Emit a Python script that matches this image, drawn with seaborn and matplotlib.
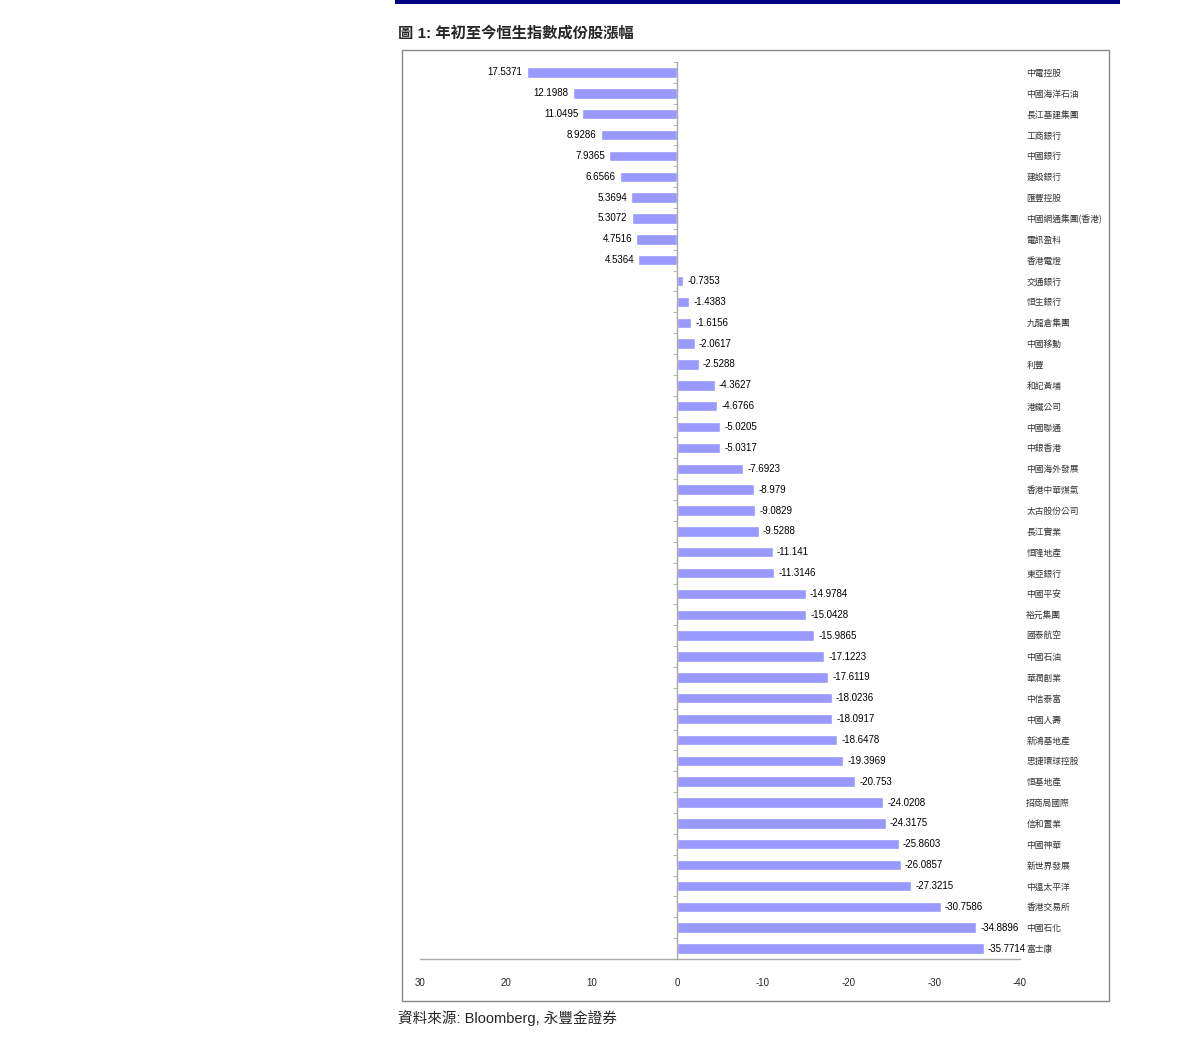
import numpy as np
import pandas as pd
import matplotlib
matplotlib.use("Agg")
import matplotlib.pyplot as plt
import seaborn as sns
from matplotlib.patches import Rectangle

# 恒指成份股年初至今漲幅
stocks = ['中電控股', '中國海洋石油', '長江基建集團', '工商銀行', '中國銀行', '建設銀行',
          '匯豐控股', '中國網通集團(香港)', '電訊盈科', '香港電燈', '交通銀行', '恒生銀行',
          '九龍倉集團', '中國移動', '利豐', '和記黃埔', '港鐵公司', '中國聯通', '中銀香港',
          '中國海外發展', '香港中華煤氣', '太古股份公司', '長江實業', '恒隆地產', '東亞銀行',
          '中國平安', '裕元集團', '國泰航空', '中國石油', '華潤創業', '中信泰富', '中國人壽',
          '新鴻基地產', '思捷環球控股', '恒基地產', '招商局國際', '信和置業', '中國神華',
          '新世界發展', '中遠太平洋', '香港交易所', '中國石化', '富士康']
change = [17.5371, 12.1988, 11.0495, 8.9286, 7.9365, 6.6566, 5.3694, 5.3072, 4.7516,
          4.5364, -0.7353, -1.4383, -1.6156, -2.0617, -2.5288, -4.3627, -4.6766, -5.0205,
          -5.0317, -7.6923, -8.979, -9.0829, -9.5288, -11.141, -11.3146, -14.9784,
          -15.0428, -15.9865, -17.1223, -17.6119, -18.0236, -18.0917, -18.6478, -19.3969,
          -20.753, -24.0208, -24.3175, -25.8603, -26.0857, -27.3215, -30.7586, -34.8896,
          -35.7714]
xticks = [30, 20, 10, 0, -10, -20, -30, -40]

df = pd.DataFrame({'stock': stocks, 'change': change})

sns.set_style('white')
plt.rcParams['font.family'] = ['Liberation Sans', 'Noto Sans CJK TC']
plt.rcParams['axes.unicode_minus'] = False

fig = plt.figure(figsize=(11.91, 10.46), dpi=100)
W, H = 1191, 1046
ax = fig.add_axes([420 / W, 1 - 959 / H, 600 / W, 897 / H])

sns.barplot(data=df, x='change', y='stock', orient='h', color='#9999FF',
            saturation=1, width=0.5, ax=ax, order=stocks)

ax.set_xlim(30, -40)
ax.set_ylim(len(stocks) - 0.5, -0.5)
ax.set_xticks(xticks)
ax.set_xticklabels([str(t) for t in xticks], fontsize=7)
ax.set_xlabel('')
ax.set_ylabel('')

for s in ['top', 'right']:
    ax.spines[s].set_visible(False)
ax.spines['left'].set_position(('data', 0))
for s in ['left', 'bottom']:
    ax.spines[s].set_color('#aaaaaa')
    ax.spines[s].set_linewidth(1)

ax.tick_params(axis='x', direction='in', length=5, color='#aaaaaa', pad=14)
ax.set_yticks(np.arange(len(stocks) + 1) - 0.5, minor=True)
ax.tick_params(axis='y', which='major', left=False, right=False,
               labelleft=False, labelright=True, pad=1)
ax.tick_params(axis='y', which='minor', left=True, length=3, color='#aaaaaa',
               direction='out')
for lab in ax.get_yticklabels():
    lab.set_fontfamily(['Noto Sans CJK TC'])
    lab.set_fontsize(6.3)
    lab.set_color('#333333')

ax.bar_label(ax.containers[0], labels=[str(v) for v in change], padding=3,
             fontsize=7, color='black')

# frame, top rule, title, source
fig.patches.append(Rectangle((402 / W, 1 - 1001 / H), 707 / W, 951 / H,
                             transform=fig.transFigure, fill=False,
                             edgecolor='#888888', linewidth=1))
fig.patches.append(Rectangle((395 / W, 1 - 4 / H), 725 / W, 4 / H,
                             transform=fig.transFigure, facecolor='#000080',
                             edgecolor='none'))
fig.text(398 / W, 1 - 33 / H, '圖 1: 年初至今恒生指數成份股漲幅', fontsize=11,
         fontweight='bold', va='center', ha='left',
         family=['Liberation Sans', 'Noto Sans CJK TC'])
fig.text(398 / W, 1 - 1018 / H, '資料來源: Bloomberg, 永豐金證券', fontsize=10.5,
         va='center', ha='left', family=['Liberation Sans', 'Noto Sans CJK TC'])

fig.savefig('out.png', dpi=100)
